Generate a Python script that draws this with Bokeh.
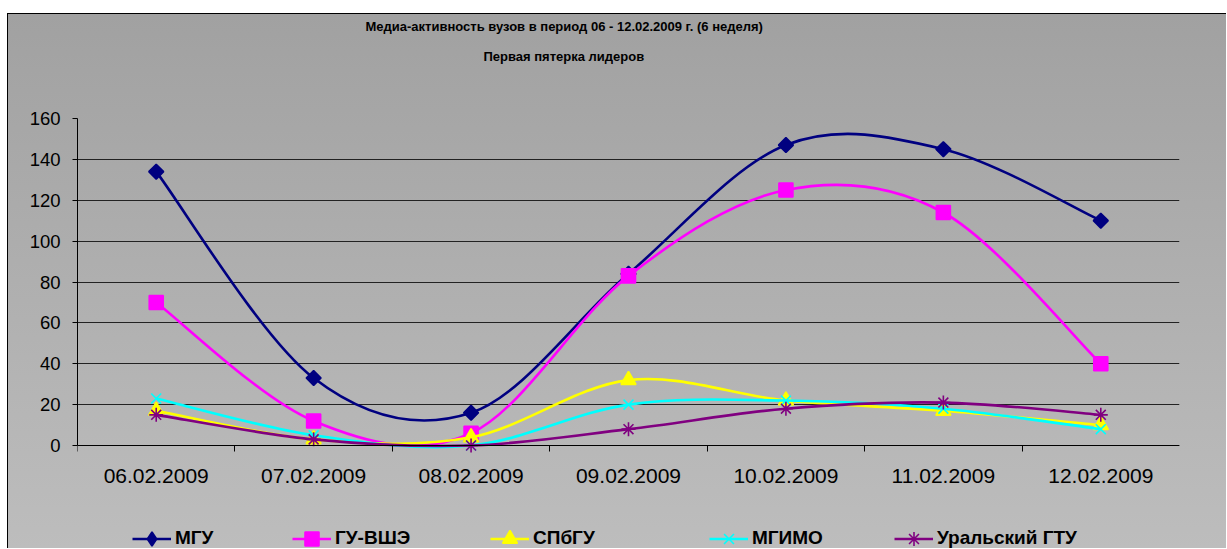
import numpy as np
from bokeh.plotting import figure
from bokeh.models import (FixedTicker, Legend, LegendItem, Title, ColumnDataSource, Spacer)
from bokeh.layouts import column, row
from bokeh.embed import file_html
from bokeh.resources import INLINE

# ---------------- data ----------------
categories = ["06.02.2009", "07.02.2009", "08.02.2009", "09.02.2009",
              "10.02.2009", "11.02.2009", "12.02.2009"]
mgu = [134, 33, 16, 84, 147, 145, 110]
gu_hse = [70, 12, 6, 83, 125, 114, 40]
spbgu = [17, 3, 4, 32, 22, 17, 10]
mgimo = [23, 5, 0, 20, 22, 18, 8]
ural = [15, 3, 0, 8, 18, 21, 15]
series_names = ["МГУ", "ГУ-ВШЭ", "СПбГУ", "МГИМО", "Уральский ГТУ"]
series_values = [mgu, gu_hse, spbgu, mgimo, ural]
y_ticks = [0, 20, 40, 60, 80, 100, 120, 140, 160]
title_main = "Медиа-активность вузов в период 06 - 12.02.2009 г. (6 неделя)"
title_sub = "Первая пятерка лидеров"

# ---------------- styles / layout ----------------
colors = ["#000080", "#FF00FF", "#FFFF00", "#00FFFF", "#800080"]
markers = ["square", "square", "triangle", "x", "asterisk"]
legend_markers = ["diamond", "square", "triangle", "x", "asterisk"]
angles = [np.pi / 4, 0, 0, 0, 0]
sizes = [10.5, 14, 15, 14, 14]
legend_gh = [35, 35, 37, 35, 35]
legend_x = [55, 215, 413, 632, 817]
FONT = "Liberation Sans"

W, H = 1219, 535
TOP, BOTTOM_AXIS_PX = 104, 104      # frame top offset; px from value 0 to canvas bottom
PLOT_H = 327                        # px between 0 and 160
y_top = 160
y_bottom = -y_top * BOTTOM_AXIS_PX / PLOT_H

p = figure(width=W, height=H, output_backend="svg", toolbar_location=None,
           x_range=(-0.5, len(categories) - 0.5), y_range=(y_bottom, y_top),
           min_border_left=69, min_border_right=48, min_border_top=TOP,
           min_border_bottom=0)
p.border_fill_alpha = 0
p.background_fill_alpha = 0
p.outline_line_color = None
p.styles = {"background": "linear-gradient(to bottom, #a1a1a1, #bdbdbd)",
            "border-top": "1px solid black", "border-left": "1px solid black"}

# axes
xa = p.xaxis[0]
xa.fixed_location = 0
xa.ticker = FixedTicker(ticks=list(range(len(categories))),
                        minor_ticks=[i - 0.5 for i in range(len(categories))])
xa.major_label_overrides = {i: c for i, c in enumerate(categories)}
xa.major_tick_out = 0
xa.major_tick_in = 0
xa.minor_tick_out = 6
xa.minor_tick_in = 0
xa.minor_tick_line_color = "black"
xa.axis_line_color = "black"
xa.major_label_text_font = FONT
xa.major_label_text_font_size = "21px"
xa.major_label_text_color = "black"
xa.major_label_standoff = 17

ya = p.yaxis[0]
ya.bounds = (0, y_top)
ya.ticker = FixedTicker(ticks=y_ticks)
ya.major_tick_out = 5
ya.major_tick_in = 0
ya.minor_tick_out = 0
ya.minor_tick_in = 0
ya.axis_line_color = "black"
ya.major_tick_line_color = "black"
ya.major_label_text_font = FONT
ya.major_label_text_font_size = "18.5px"
ya.major_label_text_color = "black"
ya.major_label_standoff = 12

p.xgrid.grid_line_color = None
p.ygrid.ticker = FixedTicker(ticks=y_ticks)
p.ygrid.grid_line_color = "#222222"
p.ygrid.grid_line_width = 1


def bezier_source(vals):
    n = len(vals)
    xs = np.arange(n, dtype=float)
    ys = np.asarray(vals, dtype=float)
    xp = np.concatenate([[xs[0]], xs, [xs[-1]]])
    yp = np.concatenate([[ys[0]], ys, [ys[-1]]])
    m = n - 1
    x0 = xp[1:n]; x1 = xp[2:n + 1]
    y0 = yp[1:n]; y1 = yp[2:n + 1]
    cx0 = x0 + (xp[2:n + 1] - xp[0:m]) / 6.0
    cy0 = y0 + (yp[2:n + 1] - yp[0:m]) / 6.0
    cx1 = x1 - (xp[3:n + 2] - xp[1:n]) / 6.0
    cy1 = y1 - (yp[3:n + 2] - yp[1:n]) / 6.0
    return ColumnDataSource(dict(x0=x0, y0=y0, x1=x1, y1=y1,
                                 cx0=cx0, cy0=cy0, cx1=cx1, cy1=cy1))


LEGEND_CENTER_FROM_BOTTOM = 11
for i, (name, vals) in enumerate(zip(series_names, series_values)):
    col = colors[i]
    xs = list(range(len(vals)))
    curve = p.bezier(x0="x0", y0="y0", x1="x1", y1="y1", cx0="cx0", cy0="cy0",
                     cx1="cx1", cy1="cy1", source=bezier_source(vals),
                     line_color=col, line_width=2.6)
    leg_marker = p.scatter(x=xs, y=vals, marker=legend_markers[i],
                           size=sizes[i] if legend_markers[i] == markers[i] else 13,
                           fill_color=col, line_color=col, line_width=1.6)
    if legend_markers[i] != markers[i]:
        p.scatter(x=xs, y=vals, marker=markers[i], size=sizes[i],
                  angle=angles[i], fill_color=col, line_color=col,
                  line_width=1.6)
    gh = legend_gh[i]
    leg = Legend(items=[LegendItem(label=name, renderers=[curve, leg_marker])],
                 location=(legend_x[i], LEGEND_CENTER_FROM_BOTTOM - gh / 2.0),
                 orientation="horizontal", glyph_width=39, glyph_height=gh,
                 label_standoff=4, padding=0, margin=0, spacing=0,
                 background_fill_alpha=0, border_line_color=None,
                 label_text_font=FONT, label_text_font_style="bold",
                 label_text_font_size="19px", label_text_color="black")
    p.add_layout(leg)

# titles (stacked outward from the frame)
p.add_layout(Title(text=" ", text_font_size="1px", standoff=41), "above")
p.add_layout(Title(text=title_sub, align="left", offset=406, standoff=22,
                   text_font=FONT, text_font_style="bold",
                   text_font_size="13px", text_color="black"), "above")
p.add_layout(Title(text=title_main, align="left", offset=288, standoff=4,
                   text_font=FONT, text_font_style="bold",
                   text_font_size="13px", text_color="black"), "above")

layout = column(Spacer(height=13), row(Spacer(width=7), p))
open("out.html", "w").write(file_html(layout, INLINE))
